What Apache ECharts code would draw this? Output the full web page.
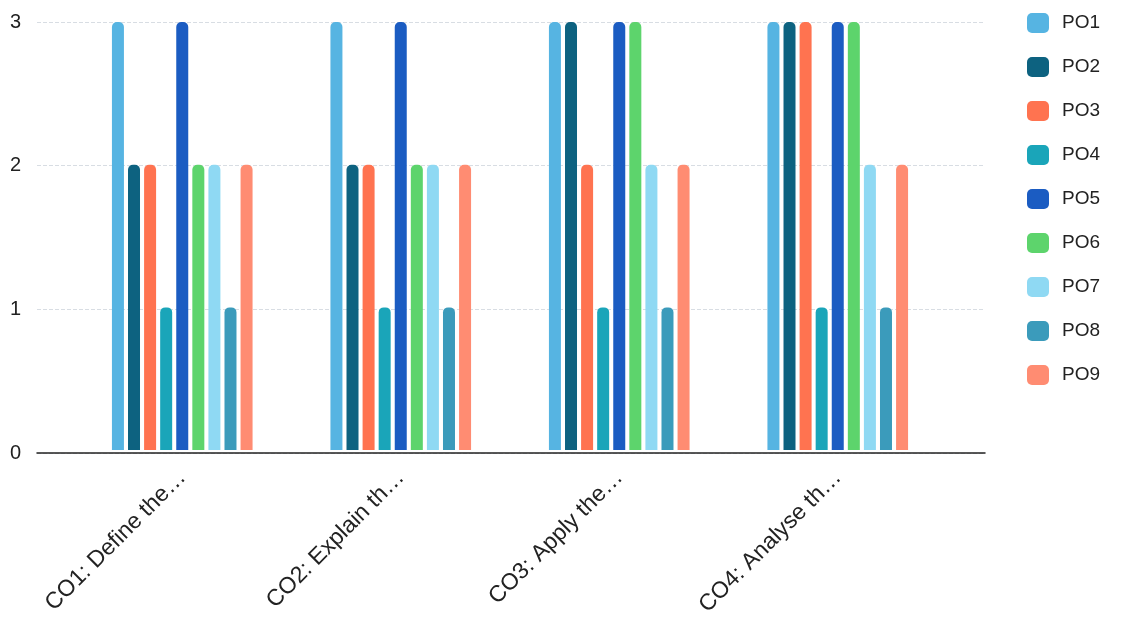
<!DOCTYPE html>
<html><head><meta charset="utf-8">
<script src="https://cdn.jsdelivr.net/npm/echarts@6/dist/echarts.min.js"></script>
<style>html,body{margin:0;padding:0;background:#fff}#c{width:1121px;height:619px}</style>
</head><body><div id="c"></div>
<script>
const categories = ["CO1: Define the…", "CO2: Explain th…", "CO3: Apply the…", "CO4: Analyse th…"];
const seriesNames = ["PO1","PO2","PO3","PO4","PO5","PO6","PO7","PO8","PO9"];
const PO1 = [3,3,3,3];
const PO2 = [2,2,3,3];
const PO3 = [2,2,2,3];
const PO4 = [1,1,1,1];
const PO5 = [3,3,3,3];
const PO6 = [2,2,3,3];
const PO7 = [2,2,2,2];
const PO8 = [1,1,1,1];
const PO9 = [2,2,2,2];
const yTicks = [0,1,2,3];
const values = [PO1,PO2,PO3,PO4,PO5,PO6,PO7,PO8,PO9];
const colors = ["#56b4e2","#0d6280","#ff7350","#1aa5b9","#1b5cc2","#5dd46c","#8fd9f3","#3b9bbb","#ff8c72"];

const chart = echarts.init(document.getElementById('c'));
const series = seriesNames.map((n,i)=>({
  name:n, type:'bar', xAxisIndex:1, yAxisIndex:1, data:values[i],
  barWidth:12, barGap:'34%',
  itemStyle:{color:colors[i], borderRadius:[5,5,0,0]}
}));
chart.setOption({
  animation:false,
  textStyle:{fontFamily:'Liberation Sans, Arial, sans-serif'},
  legend:{
    orient:'vertical', left:1022, top:8, itemWidth:22, itemHeight:20, itemGap:24,
    icon:'roundRect',
    textStyle:{fontSize:19, color:'#222', padding:[0,0,0,8]},
    data:seriesNames
  },
  grid:[
    {left:37, right:136, top:22, bottom:166},
    {left:73, right:174, top:22, bottom:166}
  ],
  xAxis:[
    {type:'category', gridIndex:0, data:[''], axisTick:{show:false}, axisLabel:{show:false},
     axisLine:{lineStyle:{color:'#222', width:1.5}}},
    {type:'category', gridIndex:1, data:categories, axisTick:{show:false}, axisLine:{show:false},
     axisLabel:{rotate:45, fontSize:23, color:'#222', margin:24, interval:0}}
  ],
  yAxis:[
    {type:'value', gridIndex:0, min:0, max:3, interval:1,
     axisLabel:{fontSize:20, color:'#222', margin:27, align:'left'},
     splitLine:{lineStyle:{color:'#d8dde3', type:'dashed'}}, axisLine:{show:false}, axisTick:{show:false}},
    {type:'value', gridIndex:1, min:0, max:3, interval:1, show:false, splitLine:{show:false}}
  ],
  series: series
});
</script></body></html>
